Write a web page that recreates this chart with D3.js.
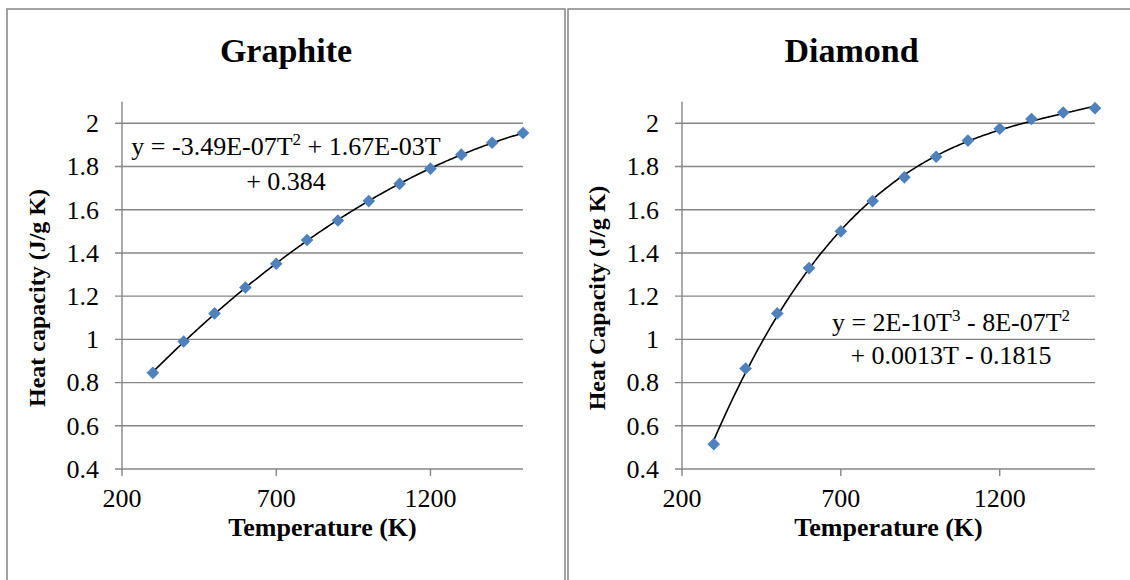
<!DOCTYPE html>
<html>
<head>
<meta charset="utf-8">
<script src="https://cdn.jsdelivr.net/npm/d3@7"></script>
<style>
  body { margin: 0; background: #fff; }
</style>
</head>
<body>
<div id="chart"></div>
<script>
// data
var temps = [300, 400, 500, 600, 700, 800, 900, 1000, 1100, 1200, 1300, 1400, 1500];
var graphiteCp = [0.845, 0.99, 1.12, 1.24, 1.35, 1.46, 1.55, 1.64, 1.72, 1.79, 1.855, 1.91, 1.955];
var diamondCp = [0.515, 0.865, 1.12, 1.33, 1.50, 1.64, 1.75, 1.845, 1.92, 1.975, 2.02, 2.05, 2.07];
var xTicks = [200, 700, 1200];
var yTicks = [0.4, 0.6, 0.8, 1, 1.2, 1.4, 1.6, 1.8, 2];
var titles = ["Graphite", "Diamond"];
var yTitles = ["Heat capacity (J/g K)", "Heat Capacity (J/g K)"];
var xTitle = "Temperature (K)";
var trendDegree = [2, 3];
// trendline labels, [text, superscript] pieces per line
var graphiteEq = [[["y = -3.49E-07T", "2"], [" + 1.67E-03T", ""]], [["+ 0.384", ""]]];
var diamondEq = [[["y = 2E-10T", "3"], [" - 8E-07T", "2"]], [["+ 0.0013T - 0.1815", ""]]];

var width = 1130, height = 580;
var gridColor = "#868686", markerColor = "#4f81bd";
var font = "Liberation Serif";

var svg = d3.select("#chart")
  .append("svg")
    .attr("width", width)
    .attr("height", height);

svg.append("rect").attr("width", width).attr("height", height).attr("fill", "#fff");

// least squares polynomial fit (like the excel trendline), T scaled to thousands
function polyfit(xs, ys, deg) {
  var n = deg + 1, A = [], i, j, k;
  for (i = 0; i < n; i++) {
    A.push([]);
    for (j = 0; j <= n; j++) A[i].push(0);
  }
  xs.forEach(function(x, p) {
    for (i = 0; i < n; i++) {
      for (j = 0; j < n; j++) A[i][j] += Math.pow(x, i + j);
      A[i][n] += ys[p] * Math.pow(x, i);
    }
  });
  for (i = 0; i < n; i++) {
    for (k = i + 1; k < n; k++) {
      var f = A[k][i] / A[i][i];
      for (j = i; j <= n; j++) A[k][j] -= f * A[i][j];
    }
  }
  var c = new Array(n).fill(0);
  for (i = n - 1; i >= 0; i--) {
    var s = A[i][n];
    for (j = i + 1; j < n; j++) s -= A[i][j] * c[j];
    c[i] = s / A[i][i];
  }
  return function(x) { return c.reduce(function(acc, ci, p) { return acc + ci * Math.pow(x, p); }, 0); };
}

var panels = [
  {x0: 7, x1: 565, plotL: 122, plotR: 523, cp: graphiteCp, eq: graphiteEq, eqX: 286, eqY: [155, 190]},
  {x0: 568, x1: 1135, plotL: 682, plotR: 1095, cp: diamondCp, eq: diamondEq, eqX: 951, eqY: [331, 364]}
];

panels.forEach(function(p, idx) {
  var g = svg.append("g");

  // chart border
  g.append("rect")
    .attr("x", p.x0).attr("y", 9)
    .attr("width", p.x1 - p.x0).attr("height", 600)
    .attr("fill", "none")
    .attr("stroke", "#8c8c8c")
    .attr("stroke-width", 1.6);

  var x = d3.scaleLinear().domain([200, 1500]).range([p.plotL, p.plotR]);
  var y = d3.scaleLinear().domain([0.4, 2.1]).range([469, 101.7]);

  // horizontal gridlines
  g.append("g")
    .selectAll("line")
    .data(yTicks)
    .enter()
    .append("line")
      .attr("x1", x(200) - 7)
      .attr("x2", x(1500))
      .attr("y1", function(d) { return y(d); })
      .attr("y2", function(d) { return y(d); })
      .attr("stroke", gridColor)
      .attr("stroke-width", 1.4);

  // y axis line
  g.append("line")
    .attr("x1", x(200)).attr("x2", x(200))
    .attr("y1", y(0.4)).attr("y2", y(2.1))
    .attr("stroke", gridColor)
    .attr("stroke-width", 1.4);

  // x ticks
  g.append("g")
    .selectAll("line")
    .data(xTicks)
    .enter()
    .append("line")
      .attr("x1", function(d) { return x(d); })
      .attr("x2", function(d) { return x(d); })
      .attr("y1", y(0.4))
      .attr("y2", y(0.4) + 7)
      .attr("stroke", gridColor)
      .attr("stroke-width", 1.4);

  // tick labels
  g.append("g")
    .selectAll("text")
    .data(yTicks)
    .enter()
    .append("text")
      .attr("x", x(200) - 23)
      .attr("y", function(d) { return y(d); })
      .attr("dy", "0.34em")
      .attr("text-anchor", "end")
      .attr("font-family", font)
      .attr("font-size", 26)
      .text(function(d) { return String(+d.toFixed(1)); });

  g.append("g")
    .selectAll("text")
    .data(xTicks)
    .enter()
    .append("text")
      .attr("x", function(d) { return x(d); })
      .attr("y", 507)
      .attr("text-anchor", "middle")
      .attr("font-family", font)
      .attr("font-size", 26)
      .text(function(d) { return d; });

  // titles
  g.append("text")
    .attr("x", (p.x0 + p.x1) / 2)
    .attr("y", 62)
    .attr("text-anchor", "middle")
    .attr("font-family", font)
    .attr("font-size", 34)
    .attr("font-weight", "bold")
    .text(titles[idx]);

  g.append("text")
    .attr("x", (p.plotL + p.plotR) / 2)
    .attr("y", 536)
    .attr("text-anchor", "middle")
    .attr("font-family", font)
    .attr("font-size", 26)
    .attr("font-weight", "bold")
    .text(xTitle);

  g.append("text")
    .attr("transform", "translate(" + (p.plotL - 77) + ",298) rotate(-90)")
    .attr("text-anchor", "middle")
    .attr("font-family", font)
    .attr("font-size", 24)
    .attr("font-weight", "bold")
    .text(yTitles[idx]);

  // polynomial trendline
  var fit = polyfit(temps.map(function(t) { return t / 1000; }), p.cp, trendDegree[idx]);
  var tt = d3.range(300, 1500.1, 5);
  g.append("path")
    .datum(tt)
    .attr("fill", "none")
    .attr("stroke", "#000")
    .attr("stroke-width", 1.6)
    .attr("d", d3.line()
      .x(function(t) { return x(t); })
      .y(function(t) { return y(fit(t / 1000)); }));

  // diamond markers
  g.append("g")
    .selectAll("path")
    .data(temps)
    .enter()
    .append("path")
      .attr("d", d3.symbol(d3.symbolSquare, 80))
      .attr("transform", function(t, i) { return "translate(" + x(t) + "," + y(p.cp[i]) + ") rotate(45)"; })
      .attr("fill", markerColor);

  // equation label, one text per line
  p.eq.forEach(function(line, li) {
    var eq = g.append("text")
      .attr("x", p.eqX)
      .attr("y", p.eqY[li])
      .attr("text-anchor", "middle")
      .attr("font-family", font)
      .attr("font-size", 26);
    var raised = false;
    line.forEach(function(piece) {
      var t = eq.append("tspan").text(piece[0]);
      if (raised) { t.attr("dy", 10); raised = false; }
      if (piece[1]) {
        eq.append("tspan").attr("dy", -10).attr("font-size", 17).text(piece[1]);
        raised = true;
      }
    });
  });
});
</script>
</body>
</html>
